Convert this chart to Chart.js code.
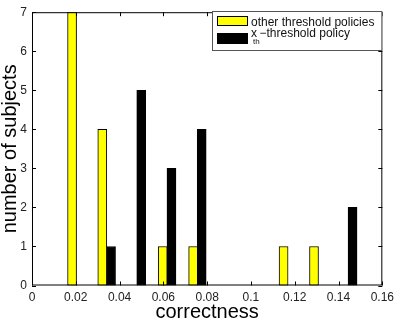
<!DOCTYPE html>
<html>
<head>
<meta charset="utf-8">
<script src="https://cdn.jsdelivr.net/npm/chart.js@4/dist/chart.umd.min.js"></script>
<style>
html, body { margin: 0; padding: 0; background: #fff; }
</style>
</head>
<body>
<canvas id="chart" width="399" height="331"></canvas>
<script>
// data
const otherX = [0.0183, 0.0321, 0.0597, 0.0736, 0.1149, 0.1288];
const otherCounts = [7, 4, 1, 1, 1, 1];
const xthX = [0.0361, 0.0499, 0.0637, 0.0775, 0.1464];
const xthCounts = [1, 5, 3, 4, 2];
const xTicks = [0, 0.02, 0.04, 0.06, 0.08, 0.1, 0.12, 0.14, 0.16];
const yTicks = [0, 1, 2, 3, 4, 5, 6, 7];

const FONT = 'Helvetica, "Liberation Sans", Arial, sans-serif';

function toPoints(xs, ys) {
    return xs.map((x, i) => ({ x: x, y: ys[i] }));
}

// box, inward ticks, legend and axis titles (matlab look)
const matlabFrame = {
    id: 'matlabFrame',
    afterDraw(chart) {
        const ctx = chart.ctx;
        const a = chart.chartArea;
        const sx = chart.scales.x, sy = chart.scales.y;
        ctx.save();
        ctx.strokeStyle = '#000';
        ctx.lineWidth = 1;
        ctx.strokeRect(a.left + 0.5, a.top + 0.5, a.right - a.left - 1, a.bottom - a.top - 1);
        ctx.beginPath();
        xTicks.forEach(v => {
            const px = Math.round(sx.getPixelForValue(v)) + 0.5;
            ctx.moveTo(px, a.bottom); ctx.lineTo(px, a.bottom - 4);
            ctx.moveTo(px, a.top); ctx.lineTo(px, a.top + 4);
        });
        yTicks.forEach(v => {
            const py = Math.round(sy.getPixelForValue(v)) + 0.5;
            ctx.moveTo(a.left, py); ctx.lineTo(a.left + 4, py);
            ctx.moveTo(a.right, py); ctx.lineTo(a.right - 4, py);
        });
        ctx.stroke();

        // legend
        const lx = 212, ly = 11, lw = a.right - 212, lh = 40;
        ctx.fillStyle = '#fff';
        ctx.fillRect(lx, ly, lw, lh);
        ctx.strokeStyle = '#555';
        ctx.strokeRect(lx + 0.5, ly + 0.5, lw - 1, lh - 1);
        ctx.fillStyle = '#ffff00';
        ctx.fillRect(217, 16, 31, 10);
        ctx.strokeStyle = '#000';
        ctx.strokeRect(217.5, 16.5, 30, 9);
        ctx.fillStyle = '#000';
        ctx.fillRect(217, 33, 31, 11);
        ctx.fillStyle = '#111';
        ctx.textAlign = 'left';
        ctx.textBaseline = 'alphabetic';
        ctx.font = '12px ' + FONT;
        ctx.fillText('other threshold policies', 251, 25.5);
        ctx.fillText('x', 251, 37);
        ctx.font = '8px ' + FONT;
        ctx.fillText('th', 253, 44);
        ctx.font = '12px ' + FONT;
        ctx.fillText('\u2212threshold policy', 259.5, 37);

        // axis titles
        ctx.fillStyle = '#000';
        ctx.font = '20px ' + FONT;
        ctx.textAlign = 'center';
        ctx.textBaseline = 'middle';
        ctx.fillText('correctness', (a.left + a.right) / 2, 312);
        ctx.translate(10, (a.top + a.bottom) / 2);
        ctx.rotate(-Math.PI / 2);
        ctx.fillText('number of subjects', 0, 0);
        ctx.restore();
    }
};

new Chart(document.getElementById('chart'), {
    type: 'bar',
    data: {
        datasets: [{
            label: 'other threshold policies',
            data: toPoints(otherX, otherCounts),
            backgroundColor: '#ffff00',
            borderColor: '#000',
            borderWidth: 1,
            borderSkipped: false
        }, {
            label: 'x_th-threshold policy',
            data: toPoints(xthX, xthCounts),
            backgroundColor: '#000',
            borderColor: '#000',
            borderWidth: 1,
            borderSkipped: false
        }]
    },
    options: {
        responsive: false,
        animation: false,
        devicePixelRatio: 1,
        layout: { padding: { top: 6, right: 15, left: 0, bottom: 0 } },
        datasets: { bar: { grouped: false, barThickness: 9 } },
        plugins: { legend: { display: false }, tooltip: { enabled: false } },
        scales: {
            x: {
                type: 'linear',
                offset: false,
                min: 0,
                max: 0.16,
                afterBuildTicks: s => { s.ticks = xTicks.map(v => ({ value: v })); },
                afterFit: s => { s.height = 45.5; },
                grid: { display: false, drawTicks: false, offset: false },
                border: { display: false },
                ticks: {
                    padding: 5,
                    color: '#222',
                    font: { size: 12, family: FONT },
                    maxRotation: 0,
                    callback: v => String(Math.round(v * 100) / 100)
                }
            },
            y: {
                min: 0,
                max: 7,
                afterBuildTicks: s => { s.ticks = yTicks.map(v => ({ value: v })); },
                afterFit: s => { s.width = 32; },
                grid: { display: false, drawTicks: false },
                border: { display: false },
                ticks: {
                    padding: 5,
                    color: '#222',
                    font: { size: 12, family: FONT }
                }
            }
        }
    },
    plugins: [matlabFrame]
});
</script>
</body>
</html>
